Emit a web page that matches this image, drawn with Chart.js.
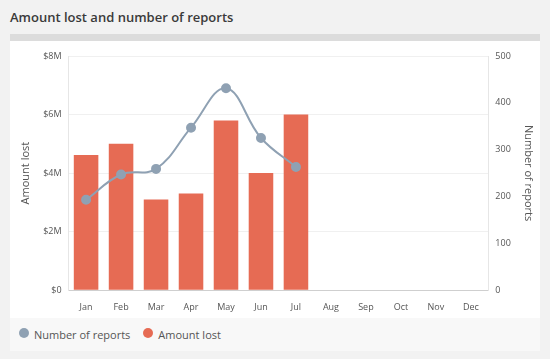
<!DOCTYPE html>
<html>
<head>
<meta charset="utf-8">
<script src="https://cdn.jsdelivr.net/npm/chart.js@4"></script>
<style>
  body { margin: 0; background: #f2f2f2; font-family: "Open Sans", sans-serif; }
  #wrap { position: relative; width: 550px; height: 359px; }
  #titulo { position: absolute; left: 10px; top: 8px; font-size: 13px; font-weight: 600; color: #3a3a3a; }
  #barra { position: absolute; left: 10px; top: 34px; width: 530px; height: 7px; background: #dcdcdc; }
  #panel { position: absolute; left: 10px; top: 41px; width: 530px; height: 277px; background: #fff; }
  #leyenda { position: absolute; left: 10px; top: 318px; width: 530px; height: 33px; background: #f8f8f8;
             font-size: 11px; color: #555; display: flex; align-items: center; }
  .item { display: flex; align-items: center; margin-left: 9px; margin-right: 4px; }
  .dot { width: 10px; height: 10px; border-radius: 50%; margin-right: 5px; margin-top: -3px; }
</style>
</head>
<body>
<div id="wrap">
  <div id="titulo">Amount lost and number of reports</div>
  <div id="barra"></div>
  <div id="panel"><canvas id="grafico" width="530" height="277"></canvas></div>
  <div id="leyenda"></div>
</div>
<script>
// Datos del gráfico
const meses = ['Jan', 'Feb', 'Mar', 'Apr', 'May', 'Jun', 'Jul', 'Aug', 'Sep', 'Oct', 'Nov', 'Dec'];
const montoPerdido = [4620000, 5000000, 3100000, 3300000, 5800000, 4000000, 6000000];
const numeroReportes = [193, 247, 259, 347, 431, 325, 263];
const ticksMonto = [0, 2000000, 4000000, 6000000, 8000000];
const ticksReportes = [0, 100, 200, 300, 400, 500];

const colorBarra = '#e66b54';
const colorLinea = '#8fa1b3';
const colorTexto = '#555';

const ctx = document.getElementById('grafico').getContext('2d');
const grafico = new Chart(ctx, {
    type: 'bar',
    data: {
        labels: meses,
        datasets: [{
            type: 'line',
            label: 'Number of reports',
            data: numeroReportes,
            yAxisID: 'yReportes',
            borderColor: colorLinea,
            backgroundColor: colorLinea,
            borderWidth: 2,
            tension: 0.4,
            pointRadius: 4,
            pointHoverRadius: 4,
            order: 0
        }, {
            label: 'Amount lost',
            data: montoPerdido,
            yAxisID: 'yMonto',
            backgroundColor: colorBarra,
            barPercentage: 0.78,
            categoryPercentage: 0.9,
            order: 1
        }]
    },
    options: {
        responsive: false,
        animation: false,
        layout: { padding: { top: 15, bottom: 1, right: 1, left: 5 } },
        plugins: { legend: { display: false }, tooltip: { enabled: false } },
        scales: {
            x: {
                grid: { display: false },
                border: { color: '#cfcfcf' },
                ticks: { color: colorTexto, font: { family: 'Open Sans', size: 9 }, padding: 4 }
            },
            yMonto: {
                position: 'left',
                min: 0, max: 8000000,
                afterBuildTicks: s => { s.ticks = ticksMonto.map(v => ({ value: v })); },
                grid: { color: '#f0f0f0', drawTicks: false },
                border: { color: '#e6e6e6' },
                ticks: {
                    color: colorTexto, font: { family: 'Open Sans', size: 9 }, padding: 7,
                    callback: v => v === 0 ? '$0' : '$' + (v / 1000000) + 'M'
                },
                title: { display: true, text: 'Amount lost', color: colorTexto, font: { family: 'Open Sans', size: 11 } }
            },
            yReportes: {
                position: 'right',
                min: 0, max: 500,
                afterBuildTicks: s => { s.ticks = ticksReportes.map(v => ({ value: v })); },
                grid: { display: false, drawTicks: false },
                border: { color: '#e6e6e6' },
                ticks: { color: colorTexto, font: { family: 'Open Sans', size: 9 }, padding: 7 },
                title: { display: true, text: 'Number of reports', color: colorTexto, font: { family: 'Open Sans', size: 11 } }
            }
        }
    }
});

// Leyenda HTML a partir de los datasets
const leyenda = document.getElementById('leyenda');
grafico.data.datasets.forEach(ds => {
    const item = document.createElement('div');
    item.className = 'item';
    item.innerHTML = '<span class="dot" style="background:' + ds.backgroundColor + '"></span>' + ds.label;
    leyenda.appendChild(item);
});
</script>
</body>
</html>
